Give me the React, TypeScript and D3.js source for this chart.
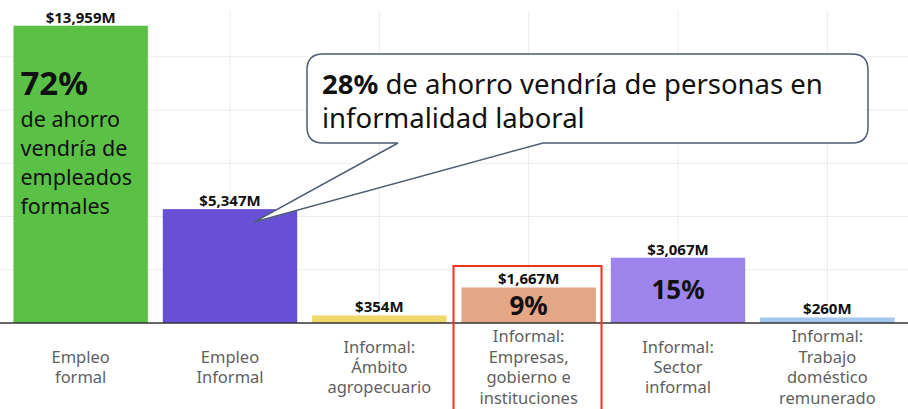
import React from 'react';
import * as d3 from 'd3';

const width = 908;
const height = 409;

const categories = [
  'Empleo formal',
  'Empleo Informal',
  'Informal: Ámbito agropecuario',
  'Informal: Empresas, gobierno e instituciones',
  'Informal: Sector informal',
  'Informal: Trabajo doméstico remunerado'
];
const categoryLines = [
  ['Empleo', 'formal'],
  ['Empleo', 'Informal'],
  ['Informal:', 'Ámbito', 'agropecuario'],
  ['Informal:', 'Empresas,', 'gobierno e', 'instituciones'],
  ['Informal:', 'Sector', 'informal'],
  ['Informal:', 'Trabajo', 'doméstico', 'remunerado']
];
const values = [13959, 5347, 354, 1667, 3067, 260];
const colors = ['#5bc146', '#6850d6', '#eed86a', '#e4a685', '#9e84ed', '#a3c7ee'];
const shares = ['72%', '', '', '9%', '15%', ''];
const formalNote = ['de ahorro', 'vendría de', 'empleados', 'formales'];
const calloutBold = '28%';
const calloutLines = [' de ahorro vendría de personas en', 'informalidad laboral'];
const yTicks = [0, 2500, 5000, 7500, 10000, 12500];

const font = "'Noto Sans', sans-serif";

export default function App() {
  const x = d3
    .scaleBand<string>()
    .domain(categories)
    .range([6, 902])
    .paddingInner(0.1)
    .paddingOuter(0.05);

  const y = d3.scaleLinear().domain([0, 14650]).range([323, 11]);
  const fmt = d3.format(',');
  const bw = x.bandwidth();
  const cx = (c: string) => (x(c) as number) + bw / 2;

  // callout bubble pointing at the informal bar
  const box = { x0: 307, x1: 868, y0: 54, y1: 143, r: 16 };
  const tip = { x: cx(categories[1]) + 24, y: y(values[1]) + 13 };
  const tailA = 398;
  const tailB = 543;
  const bubble = [
    `M${box.x0 + box.r},${box.y0}`,
    `H${box.x1 - box.r}`,
    `Q${box.x1},${box.y0} ${box.x1},${box.y0 + box.r}`,
    `V${box.y1 - box.r}`,
    `Q${box.x1},${box.y1} ${box.x1 - box.r},${box.y1}`,
    `H${tailB}`,
    `L${tip.x},${tip.y}`,
    `L${tailA},${box.y1}`,
    `H${box.x0 + box.r}`,
    `Q${box.x0},${box.y1} ${box.x0},${box.y1 - box.r}`,
    `V${box.y0 + box.r}`,
    `Q${box.x0},${box.y0} ${box.x0 + box.r},${box.y0}`,
    'Z'
  ].join(' ');

  const lineH = 20.4;
  const labelMid = 367;

  return (
    <svg
      width={width}
      height={height}
      style={{ position: 'absolute', left: 0, top: 0, fontFamily: font }}
    >
      <rect width={width} height={height} fill="#fff" />
      {/* grid */}
      {yTicks.slice(1).map(t => (
        <line key={t} x1={0} x2={width} y1={y(t)} y2={y(t)} stroke="#ececec" strokeWidth={1} />
      ))}
      {categories.map(c => (
        <line key={c} x1={cx(c)} x2={cx(c)} y1={11} y2={y(0)} stroke="#ececec" strokeWidth={1} />
      ))}

      {/* bars */}
      {categories.map((c, i) => (
        <rect
          key={c}
          x={x(c)}
          y={y(values[i])}
          width={bw}
          height={y(0) - y(values[i])}
          fill={colors[i]}
        />
      ))}
      <line x1={0} x2={width} y1={y(0)} y2={y(0)} stroke="#333" strokeWidth={1.5} />

      {/* value labels */}
      {categories.map((c, i) => (
        <text
          key={c}
          x={cx(c)}
          y={y(values[i]) - 3}
          textAnchor="middle"
          fontSize={15}
          fontWeight="bold"
          fill="#111"
        >
          ${fmt(values[i])}M
        </text>
      ))}

      {/* share labels inside bars */}
      {categories.map((c, i) =>
        shares[i] && i > 0 ? (
          <text
            key={c}
            x={cx(c)}
            y={y(values[i]) + (i === 3 ? 28 : 41)}
            textAnchor="middle"
            fontSize={26}
            fontWeight="bold"
            fill="#111"
          >
            {shares[i]}
          </text>
        ) : null
      )}

      {/* formal note */}
      <text x={(x(categories[0]) as number) + 7} y={95} fontSize={33} fontWeight="bold" fill="#111">
        {shares[0]}
      </text>
      {formalNote.map((t, k) => (
        <text key={t} x={(x(categories[0]) as number) + 7} y={127 + k * 29} fontSize={21.5} fill="#111">
          {t}
        </text>
      ))}

      {/* category labels */}
      {categories.map((c, i) => {
        const lines = categoryLines[i];
        const top = labelMid - ((lines.length - 1) * lineH) / 2;
        return (
          <text key={c} textAnchor="middle" fontSize={16.5} fill="#5f5f5f">
            {lines.map((l, k) => (
              <tspan key={k} x={cx(c)} y={top + k * lineH + 6}>
                {l}
              </tspan>
            ))}
          </text>
        );
      })}

      {/* highlight box */}
      <rect x={453.5} y={266} width={148} height={150} fill="none" stroke="#f0321e" strokeWidth={2} />

      {/* callout */}
      <path d={bubble} fill="#fff" stroke="#4f5d72" strokeWidth={1.5} />
      <text x={322} y={94} fontSize={27.5} fill="#111">
        <tspan fontWeight="bold">{calloutBold}</tspan>
        {calloutLines[0]}
      </text>
      <text x={322} y={128} fontSize={27.5} fill="#111">
        {calloutLines[1]}
      </text>
    </svg>
  );
}
